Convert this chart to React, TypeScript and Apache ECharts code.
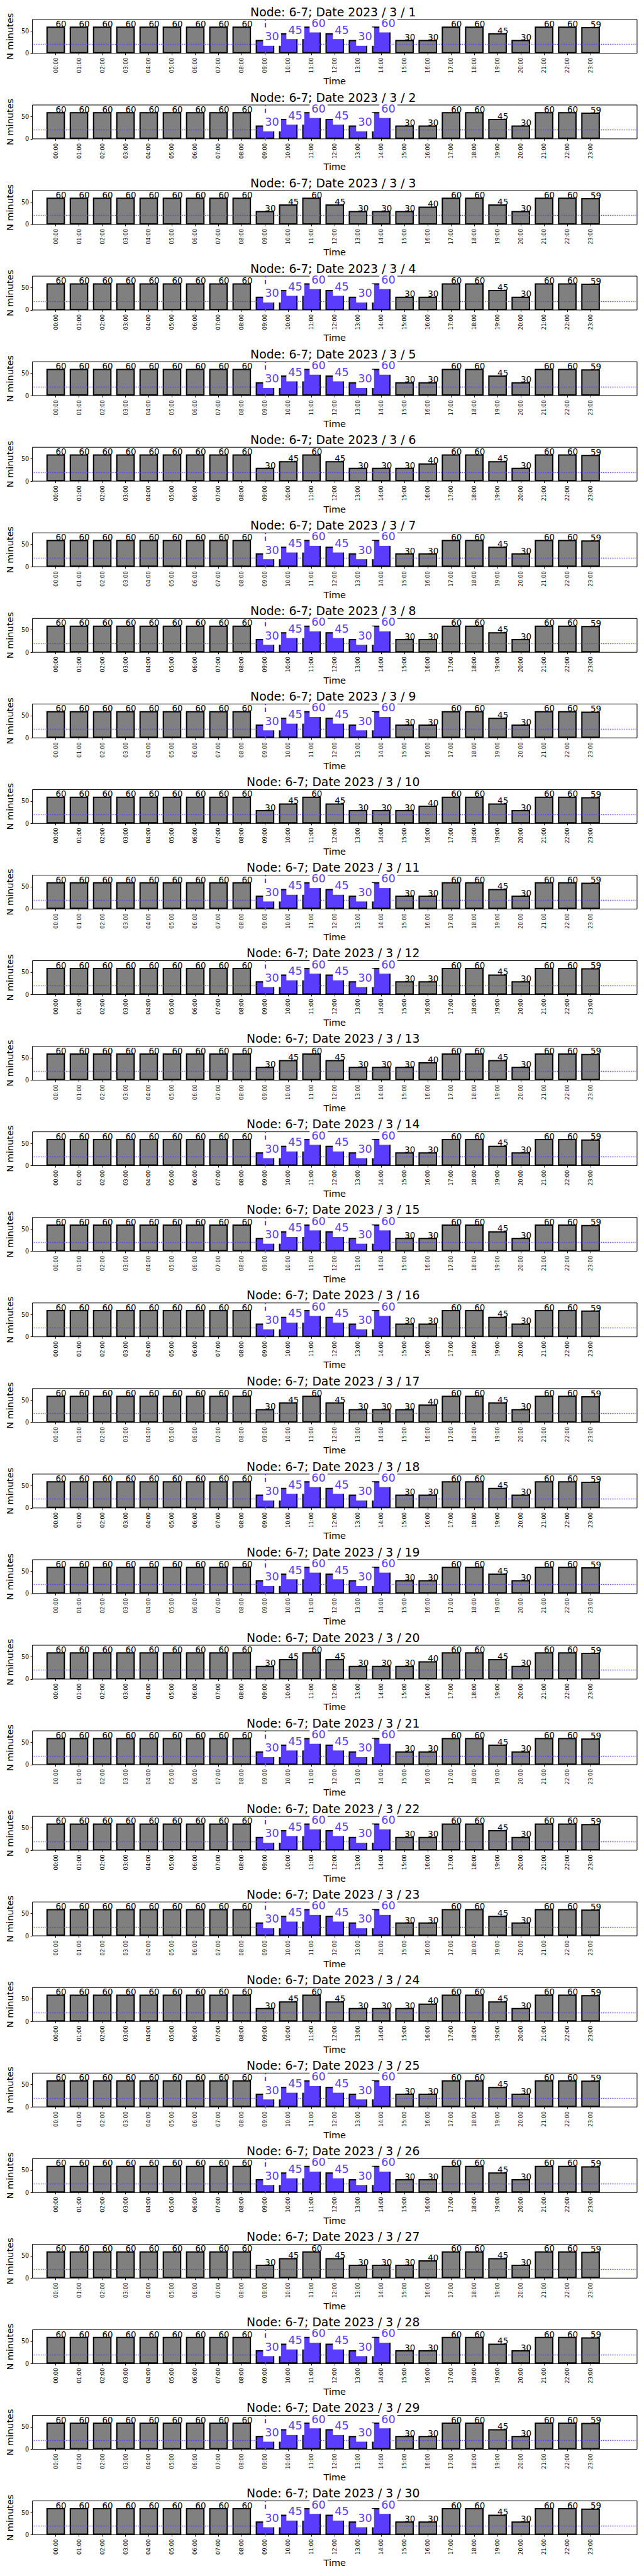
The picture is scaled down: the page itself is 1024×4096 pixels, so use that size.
import React, { useEffect, useRef } from 'react';
import * as echarts from 'echarts';

const NODE = '6-7';
const YEAR = 2023;
const MONTH = 3;
const DAYS = [1, 2, 3, 4, 5, 6, 7, 8, 9, 10, 11, 12, 13, 14, 15, 16, 17, 18, 19, 20, 21, 22, 23, 24, 25, 26, 27, 28, 29, 30];
const PLAIN_DAYS = [3, 6, 10, 13, 17, 20, 24, 27];
const HOURS = ['00:00', '01:00', '02:00', '03:00', '04:00', '05:00', '06:00', '07:00', '08:00', '09:00', '10:00', '11:00',
  '12:00', '13:00', '14:00', '15:00', '16:00', '17:00', '18:00', '19:00', '20:00', '21:00', '22:00', '23:00'];
const VALUES_HIGHLIGHT_DAY = [60, 60, 60, 60, 60, 60, 60, 60, 60, 30, 45, 60, 45, 30, 60, 30, 30, 60, 60, 45, 30, 60, 60, 59];
const VALUES_PLAIN_DAY = [60, 60, 60, 60, 60, 60, 60, 60, 60, 30, 45, 60, 45, 30, 30, 30, 40, 60, 60, 45, 30, 60, 60, 59];
const HIGHLIGHT_HOURS = ['09:00', '10:00', '11:00', '12:00', '13:00', '14:00'];
const MARK_HOUR = '09:00';
const THRESHOLD = 20;
const Y_TICKS = [0, 50];
const Y_MAX = 76;

const S = 0.682;
const PERIOD = 199.5 * S;
const GRID_TOP0 = 45.3 * S;
const GRID_H = 79 * S;
const GRID_LEFT = 68.3 * S;
const GRID_W = 1417 * S;
const TITLE_TOP0 = 9.6;

const BLUE = '#5a3cff';
const GRAY = '#808080';

const CATS = ['', ...HOURS, '', ''];

function buildOption() {
  const grid: any[] = [];
  const xAxis: any[] = [];
  const yAxis: any[] = [];
  const series: any[] = [];
  const title: any[] = [];

  const blackLabel = { color: '#000', fontSize: 13.4, offset: [0, 2.7] };
  const blueLabel = {
    color: BLUE, fontSize: 17.7, lineHeight: 17.7, backgroundColor: '#fff',
    padding: [5.8, 3], offset: [-3, 9.3],
  };

  DAYS.forEach((d, k) => {
    const highlight = !PLAIN_DAYS.includes(d);
    const values = highlight ? VALUES_HIGHLIGHT_DAY : VALUES_PLAIN_DAY;
    const top = GRID_TOP0 + PERIOD * k;
    grid.push({
      left: GRID_LEFT, top, width: GRID_W, height: GRID_H,
      show: true, borderColor: '#000', borderWidth: 1, backgroundColor: 'transparent',
    });
    title.push({
      text: `Node: ${NODE}; Date ${YEAR} / ${MONTH} / ${d}`,
      left: GRID_LEFT + GRID_W / 2, top: TITLE_TOP0 + PERIOD * k, textAlign: 'center',
      textStyle: { fontSize: 18.8, fontWeight: 'normal', color: '#000', fontFamily: 'DejaVu Sans' },
      padding: 0,
    });
    xAxis.push({
      type: 'category', gridIndex: k, data: CATS, boundaryGap: false,
      axisLine: { show: false },
      axisTick: { show: true, length: 3, lineStyle: { color: '#000', width: 1 },
        interval: (i: number) => i >= 1 && i <= HOURS.length },
      axisLabel: { rotate: 90, interval: 0, fontSize: 8.5, color: '#000', margin: 7, fontFamily: 'DejaVu Sans' },
      splitLine: { show: false },
      name: 'Time', nameLocation: 'middle', nameGap: 37,
      nameTextStyle: { fontSize: 14.5, color: '#000', fontFamily: 'DejaVu Sans' },
    });
    yAxis.push({
      type: 'value', gridIndex: k, min: 0, max: Y_MAX, interval: 50,
      axisLine: { show: false },
      axisTick: { show: true, length: 3, lineStyle: { color: '#000', width: 1 }, customValues: Y_TICKS },
      axisLabel: { fontSize: 9.6, color: '#000', margin: 5.5, customValues: Y_TICKS, fontFamily: 'DejaVu Sans' },
      splitLine: { show: false },
      name: 'N minutes', nameLocation: 'middle', nameGap: 21, nameRotate: 90,
      nameTextStyle: { fontSize: 14.5, color: '#000', fontFamily: 'DejaVu Sans' },
    });

    const barData = ['-', ...values.map((v, i) => {
      const hl = highlight && HIGHLIGHT_HOURS.includes(HOURS[i]);
      return { value: v, itemStyle: { color: hl ? BLUE : GRAY } };
    }), '-', '-'];
    const labelData = ['-', ...values.map((v, i) => {
      const hl = highlight && HIGHLIGHT_HOURS.includes(HOURS[i]);
      return { value: v, label: hl ? blueLabel : blackLabel };
    }), '-', '-'];

    const markData: any[] = [{ yAxis: THRESHOLD, lineStyle: { type: [1.2, 1.6], color: BLUE, width: 1.4 } }];
    if (highlight) {
      markData.push({ xAxis: MARK_HOUR, lineStyle: { type: [9, 4], color: BLUE, width: 2.2 } });
    }

    series.push({
      type: 'bar', xAxisIndex: k, yAxisIndex: k, data: barData, barWidth: '80%', barGap: '-100%',
      itemStyle: { borderColor: '#000', borderWidth: 2 }, z: 2, silent: true,
      markLine: {
        z: 3, silent: true, symbol: ['none', 'none'], label: { show: false },
        data: markData,
      },
    });
    series.push({
      type: 'bar', xAxisIndex: k, yAxisIndex: k, data: labelData, barWidth: '80%', barGap: '-100%',
      itemStyle: { color: 'transparent', borderWidth: 0 }, z: 4, silent: true,
      label: { show: true, position: ['50%', 0], align: 'left', verticalAlign: 'bottom', formatter: '{c}',
        fontFamily: 'DejaVu Sans' },
    });
  });

  return {
    animation: false,
    backgroundColor: '#fff',
    textStyle: { fontFamily: 'DejaVu Sans' },
    title, grid, xAxis, yAxis, series,
  };
}

export default function App() {
  const ref = useRef<HTMLDivElement>(null);
  useEffect(() => {
    document.body.style.margin = '0';
    if (!ref.current) return;
    const chart = echarts.init(ref.current, null, { renderer: 'svg' });
    chart.setOption(buildOption());
    return () => chart.dispose();
  }, []);
  return <div ref={ref} style={{ width: 1024, height: 4096 }} />;
}
